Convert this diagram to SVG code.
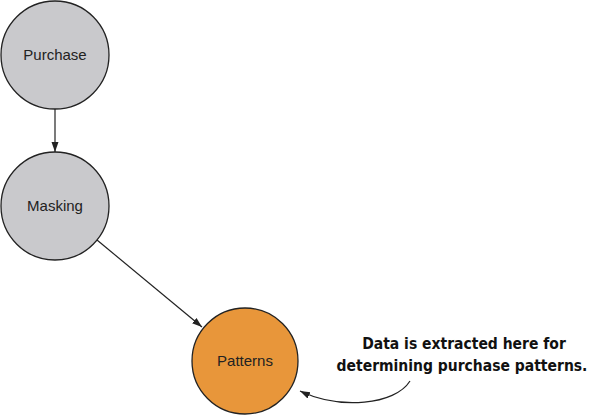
<svg xmlns="http://www.w3.org/2000/svg" width="590" height="416" viewBox="0 0 590 416">
<style>
.n{stroke:#222;stroke-width:1.3}
.g{fill:#c9c9cc}
.o{fill:#e8963a}
.t{font-family:"Liberation Sans",Arial,sans-serif;font-size:15px;fill:#222;text-anchor:middle}
.c{font-family:"DejaVu Sans Condensed","DejaVu Sans",sans-serif;font-weight:bold;font-size:15.5px;fill:#111;text-anchor:middle}
.e{fill:none;stroke:#222;stroke-width:1.2}
</style>
<defs>
<marker id="ah" viewBox="0 0 10 10" refX="10" refY="5" markerWidth="10" markerHeight="10" markerUnits="userSpaceOnUse" orient="auto">
<path d="M0,1.5 L10,5 L0,8.5 Z" fill="#222"/>
</marker>
</defs>
<rect width="590" height="416" fill="#fff"/>
<g id="connectors">
<line class="e" x1="55" y1="109" x2="55" y2="152" marker-end="url(#ah)"/>
<line class="e" x1="97" y1="240" x2="202" y2="327" marker-end="url(#ah)"/>
<path class="e" d="M410,381 C395,405 340,410 300,391" marker-end="url(#ah)"/>
</g>
<g id="purchase">
<circle class="n g" cx="55" cy="55" r="54"/>
<text class="t" x="55" y="60">Purchase</text>
</g>
<g id="masking">
<circle class="n g" cx="55" cy="206" r="54"/>
<text class="t" x="55" y="211">Masking</text>
</g>
<g id="patterns">
<circle class="n o" cx="245" cy="361" r="53"/>
<text class="t" x="245" y="366">Patterns</text>
</g>
<g id="note">
<text class="c" x="464" y="349">Data is extracted here for</text>
<text class="c" x="462" y="371">determining purchase patterns.</text>
</g>
</svg>
